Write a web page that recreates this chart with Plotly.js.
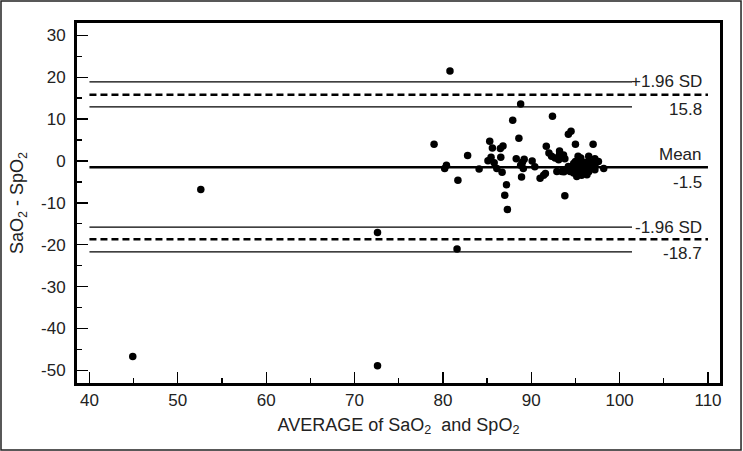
<!DOCTYPE html>
<html>
<head>
<meta charset="utf-8">
<script src="https://cdn.plot.ly/plotly-3.0.1.min.js"></script>
<style>
html,body{margin:0;padding:0;background:#fff;}
#chart{width:743px;height:451px;}
</style>
</head>
<body>
<div id="chart"></div>
<script>
// Bland-Altman data: average of SaO2 and SpO2 (x) vs difference SaO2 - SpO2 (y)
const avgValues = [
  44.9, 52.6, 72.6, 72.6, 81.6, 80.8,
  88.8, 87.9, 92.4, 94.5, 94.2, 79.0, 85.3, 88.6, 85.6, 86.5, 86.8, 91.7, 95.0, 97.0,
  82.8, 85.45, 85.1, 86.55, 85.8, 86.1, 86.7, 88.3, 80.4, 80.2, 84.1, 81.7, 87.2, 87.0, 87.3,
  89.2, 89.0, 90.1, 88.8, 89.1, 90.4, 88.9, 91.0, 91.4, 91.6, 93.8,
  92.0, 93.2, 93.2, 92.3, 92.7, 93.65, 93.8, 93.1, 95.3, 95.6, 96.5, 97.2, 97.6,
  95.0, 95.7, 96.3, 96.8, 94.8, 94.2, 94.6, 95.2, 95.5, 96.1, 96.65, 97.2,
  92.9, 93.45, 93.9, 94.4, 94.8, 95.3, 95.9, 96.5, 97.2, 98.2, 95.15, 95.7, 96.3, 93.7
];
const diffValues = [
  -46.7, -6.8, -17.1, -48.9, -21.0, 21.5,
  13.6, 9.7, 10.7, 7.1, 6.4, 4.0, 4.7, 5.4, 3.1, 3.0, 3.6, 3.5, 4.0, 4.0,
  1.3, 0.9, 0.05, 0.9, -0.4, -1.8, -2.7, 0.5, -1.0, -1.8, -1.9, -4.6, -5.7, -8.2, -11.6,
  0.4, -0.3, 0.0, -1.0, -1.8, -1.4, -3.8, -4.1, -3.4, -3.0, -8.3,
  1.9, 2.4, 1.5, 1.1, 0.7, 1.45, 0.5, 0.3, 1.1, 0.7, 1.1, 0.5, -0.1,
  -0.1, -0.1, -0.3, -0.3, -0.6, -1.3, -1.7, -1.3, -1.7, -1.3, -1.5, -1.0,
  -2.5, -2.5, -2.3, -2.5, -2.9, -2.5, -2.5, -2.6, -2.1, -1.8, -3.7, -3.4, -3.3, -2.6
];

// Reference lines
const meanDiff = -1.5;
const upperLimit = 15.8;
const lowerLimit = -18.7;
const upperLimitCI = [12.9, 18.9];
const lowerLimitCI = [-21.7, -15.8];
const lineSpan = [40, 110];
const ciSpan = [40, 101.4];

// Tick labels
const xTickVals = [40, 50, 60, 70, 80, 90, 100, 110];
const xTickText = ['40', '50', '60', '70', '80', '90', '100', '110'];
const yTickVals = [30, 20, 10, 0, -10, -20, -30, -40, -50];
const yTickText = ['30', '20', '10', '0', '-10', '-20', '-30', '-40', '-50'];
const xTitle = 'AVERAGE of SaO<sub>2</sub>\u00a0 and SpO<sub>2</sub>';
const yTitle = 'SaO<sub>2</sub> - SpO<sub>2</sub>';

const FONT = '"Liberation Sans", Arial, sans-serif';
const TXT = '#222';
const FS = 17;

function hline(y, span, width, dash) {
  return {x: span, y: [y, y], mode: 'lines', type: 'scatter', hoverinfo: 'skip',
    line: {color: '#000', width: width, dash: dash || 'solid'}, showlegend: false};
}

const traces = [
  hline(upperLimitCI[1], ciSpan, 1.2),
  hline(upperLimitCI[0], ciSpan, 1.2),
  hline(upperLimit, lineSpan, 2.6, '7px,4px'),
  hline(meanDiff, lineSpan, 2.6),
  hline(lowerLimitCI[1], ciSpan, 1.2),
  hline(lowerLimitCI[0], ciSpan, 1.2),
  hline(lowerLimit, lineSpan, 2.6, '7px,4px'),
  {x: avgValues, y: diffValues, mode: 'markers', type: 'scatter', hoverinfo: 'skip',
   marker: {color: '#000', size: 7.5}, showlegend: false, cliponaxis: false}
];

const annFont = {family: FONT, size: FS, color: TXT};
function ann(text, y) {
  return {x: 109.6, y: y, xref: 'x', yref: 'y', text: text, showarrow: false,
    xanchor: 'right', yanchor: 'middle', font: annFont};
}

const layout = {
  width: 743, height: 451,
  margin: {l: 77, r: 23, t: 23, b: 68},
  paper_bgcolor: '#fff', plot_bgcolor: '#fff',
  font: {family: FONT, size: FS, color: TXT},
  xaxis: {
    range: [38.59, 111.36], tickmode: 'array', tickvals: xTickVals, ticktext: xTickText,
    ticks: 'inside', ticklen: 11, tickwidth: 1.3,
    tickcolor: '#000', showgrid: false, zeroline: false, showline: true, linewidth: 3,
    linecolor: '#000', mirror: true, tickfont: {family: FONT, size: FS, color: TXT},
    minor: {dtick: 5, tick0: 0, ticks: 'inside', ticklen: 5, tickwidth: 1.3, tickcolor: '#000', showgrid: false},
    title: {text: xTitle, font: {family: FONT, size: 18, color: TXT}, standoff: 9}
  },
  yaxis: {
    range: [-53.0, 32.93], tickmode: 'array', tickvals: yTickVals, ticktext: yTickText,
    ticks: 'inside', ticklen: 11, tickwidth: 1.3,
    tickcolor: '#000', showgrid: false, zeroline: false, showline: true, linewidth: 3,
    linecolor: '#000', mirror: true, tickfont: {family: FONT, size: FS, color: TXT},
    ticklabelstandoff: 5,
    minor: {dtick: 5, tick0: 0, ticks: 'inside', ticklen: 5, tickwidth: 1.3, tickcolor: '#000', showgrid: false},
    title: {text: yTitle, font: {family: FONT, size: 18, color: TXT}, standoff: 13}
  },
  annotations: [
    ann('+1.96 SD', upperLimitCI[1]),
    ann(String(upperLimit), 12.4),
    ann('Mean', 1.5),
    ann(String(meanDiff), -5.1),
    ann('-1.96 SD', lowerLimitCI[1]),
    ann(String(lowerLimit), -22.0)
  ],
  shapes: [
    {type: 'rect', xref: 'paper', yref: 'paper', x0: -0.1182, x1: 1.0327, y0: -0.1861, y1: 1.0611,
     line: {color: '#222', width: 1.5}, fillcolor: 'rgba(0,0,0,0)', layer: 'below'}
  ],
  showlegend: false
};

Plotly.newPlot('chart', traces, layout, {displayModeBar: false, staticPlot: true});
</script>
</body>
</html>
